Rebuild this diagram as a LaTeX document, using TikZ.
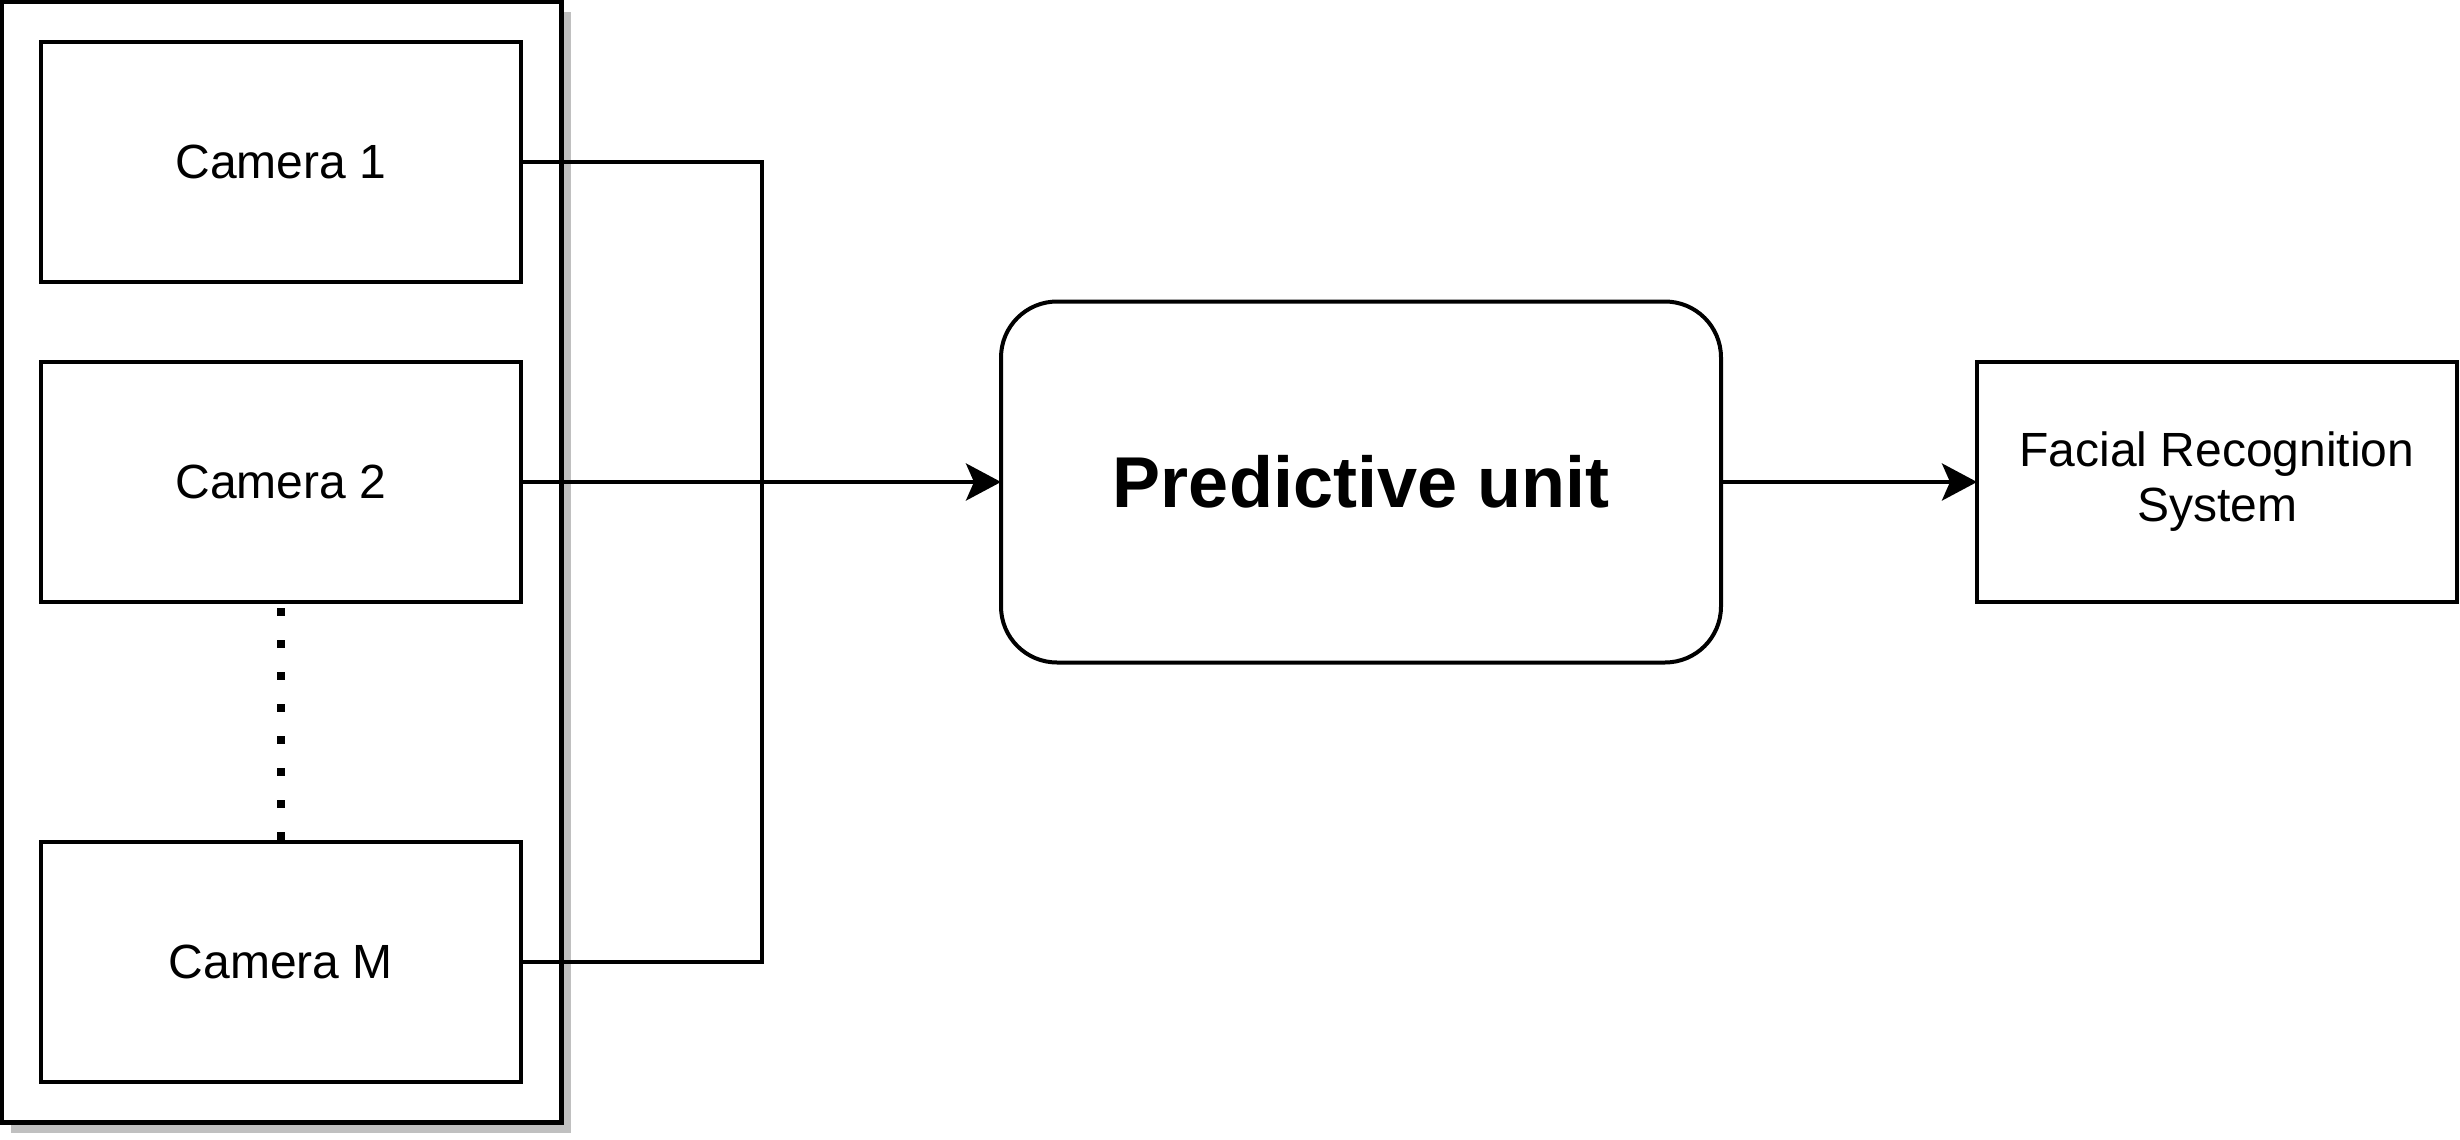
\documentclass[tikz,border=0pt]{standalone}
\usepackage{fontspec}
\setmainfont{Liberation Sans}
\usetikzlibrary{arrows.meta,positioning}
\begin{document}
\begin{tikzpicture}[x=1pt,y=-1pt,
  box/.style={draw=black,line width=4pt,fill=white,minimum width=480pt,minimum height=240pt,
    inner sep=0pt,outer sep=0pt,font=\fontsize{48}{55}\selectfont,align=center},
  conn/.style={line width=4pt,-{Stealth[length=35pt,width=37pt,inset=8pt]}},
  plain/.style={line width=4pt}]
\useasboundingbox (0,0) rectangle (2460,1140);
% container with shadow
\fill[fill={rgb,255:red,192;green,192;blue,192}] (11,12) rectangle (571,1133);
\node[draw=black,line width=5pt,fill=white,minimum width=560pt,minimum height=1121pt,inner sep=0pt,outer sep=0pt] (cont) at (281,562) {};
\node[box] (c1) at (281,162) {Camera 1};
\node[box] (c2) at (281,482) {Camera 2};
\node[box] (cm) at (281,962) {Camera M};
\node[box,rounded corners=56pt,minimum width=720pt,minimum height=361pt,font=\fontsize{72}{80}\selectfont\bfseries] (pu) at (1361,482) {Predictive unit};
\node[box] (fr) at (2217,482) {Facial Recognition\\System};
\coordinate (bus) at (762,482);
\draw[line width=8pt,dash pattern=on 8pt off 24pt] (c2.south) ++(0,6) -- (cm.north);
\draw[plain] (c1.east) -| (bus);
\draw[plain] (cm.east) -| (bus);
\draw[conn] (c2.east) -- (pu.west);
\draw[conn] (pu.east) -- (fr.west);
\end{tikzpicture}
\end{document}
